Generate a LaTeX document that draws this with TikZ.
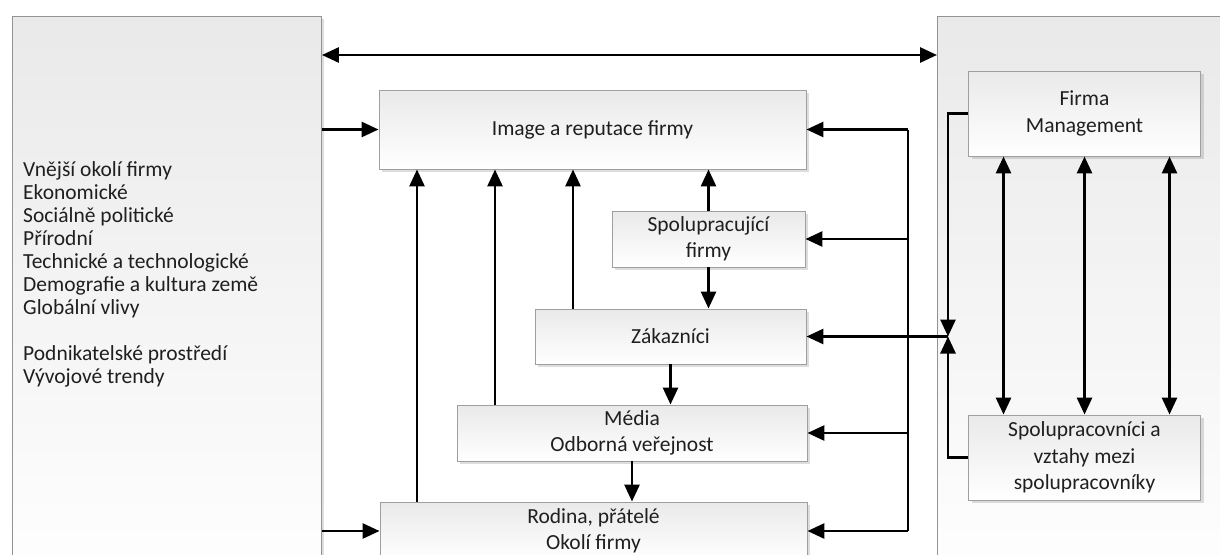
\documentclass[tikz,border=0pt]{standalone}
\usepackage{fontspec}
\setmainfont{Carlito}
\usetikzlibrary{arrows.meta,shadows}

\begin{document}
\begin{tikzpicture}[x=1pt,y=-1pt,
  shadowed/.style={drop shadow={shadow xshift=3pt,shadow yshift=-3pt,opacity=0.22,fill=black!60}},
  box/.style={draw=gray!75,line width=0.9pt,top color=gray!17,bottom color=white,
    shadowed,inner sep=0pt,align=center,text=black!88,
    font=\fontsize{21.5}{26.3}\selectfont},
  area/.style={draw=gray!85,line width=0.9pt,top color=gray!17,bottom color=white,
    shadowed,inner sep=0pt,anchor=north west},
  link/.style={line width=2.8pt,line join=miter},
  arr/.style={link,-{Triangle[length=17pt,width=15pt]}},
  biarr/.style={link,{Triangle[length=17pt,width=15pt]}-{Triangle[length=17pt,width=15pt]}}]

\useasboundingbox (0,0) rectangle (1220,554);
\clip (0,0) rectangle (1220,554);
\fill[white] (0,0) rectangle (1220,554);

% outer environment and the firm itself
\node[area,minimum width=309pt,minimum height=580pt] (L) at (12,16) {};
\node[area,minimum width=300pt,minimum height=580pt] (R) at (937,16) {};

\node[anchor=north west,inner sep=0pt,align=left,text=black!88,
      font=\fontsize{21.5}{23}\selectfont] (ext) at (23,161)
  {Vnější okolí firmy\\Ekonomické\\Sociálně politické\\Přírodní\\
   Technické a technologické\\Demografie a kultura země\\Globální vlivy\\[23pt]
   Podnikatelské prostředí\\Vývojové trendy};

% stakeholder boxes
\node[box,minimum width=427pt,minimum height=79pt] (Image) at (592.5,129.5) {Image a reputace firmy};
\node[box,minimum width=193pt,minimum height=56pt] (Spol) at (708.5,239) {Spolupracující\\firmy};
\node[box,minimum width=271pt,minimum height=55pt] (Zak) at (670.5,336.5) {Zákazníci};
\node[box,minimum width=350pt,minimum height=56pt] (Media) at (632,433) {Média\\Odborná veřejnost};
\node[box,minimum width=427pt,minimum height=58pt] (Rodina) at (593.5,531) {Rodina, přátelé\\Okolí firmy};

\node[box,minimum width=232pt,minimum height=85pt] (Firma) at (1084.5,113.5) {Firma\\Management};
\node[box,minimum width=232pt,minimum height=85pt] (Prac) at (1084.5,457.5) {Spolupracovníci a\\vztahy mezi\\spolupracovníky};

% helper positions
\coordinate (bx) at (908,0);
\coordinate (jx) at (948,0);
\coordinate (J) at (Zak.east -| jx);
\coordinate (u1) at (417,0);
\coordinate (u2) at (495,0);
\coordinate (u3) at (573,0);

% link between environment and firm
\draw[biarr] ([yshift=-39pt]L.north east) -- ([yshift=-39pt]R.north west);

% environment feeding the image and the neighbourhood
\draw[arr] (L.east |- Image.west) -- (Image.west);
\draw[arr] (L.east |- Rodina.west) -- (Rodina.west);

% upward influence on the image
\draw[arr] (Rodina.north -| u1) -- (Image.south -| u1);
\draw[arr] (Media.north -| u2) -- (Image.south -| u2);
\draw[arr] (Zak.north -| u3) -- (Image.south -| u3);
\draw[arr] (Spol.north) -- (Spol.north |- Image.south);

% downward chain
\draw[arr] (Spol.south) -- (Spol.south |- Zak.north);
\draw[arr] (Zak.south) -- (Zak.south |- Media.north);
\draw[arr] (Media.south) -- (Media.south |- Rodina.north);

% distribution bus from the firm side
\draw[link] (Image.east -| bx) -- (Rodina.east -| bx);
\foreach \n in {Image,Spol,Media,Rodina}
  \draw[arr] (\n.east -| bx) -- (\n.east);
\draw[arr] (J) -- (Zak.east);

% management and staff meeting at the junction
\draw[arr] (Firma.west) -| (J);
\draw[arr] (Prac.west) -| (J);

% management <-> staff
\foreach \d in {-81,0,85}
  \draw[biarr] ([xshift=\d pt]Firma.south) -- ([xshift=\d pt]Prac.north);

\end{tikzpicture}
\end{document}
